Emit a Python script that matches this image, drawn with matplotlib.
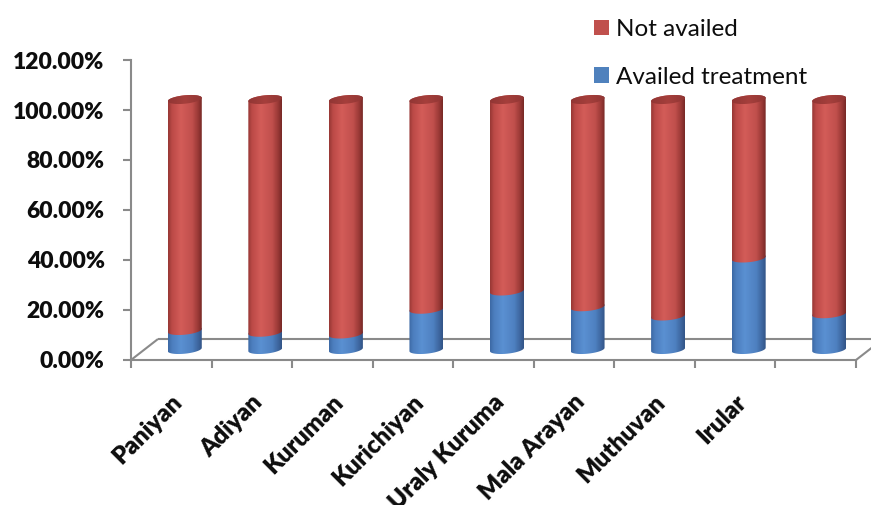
import numpy as np
import matplotlib
matplotlib.use("Agg")
import matplotlib.pyplot as plt
from matplotlib.path import Path
from matplotlib.patches import PathPatch, Rectangle

# ---- data -------------------------------------------------------------
categories = ["Paniyan", "Adiyan", "Kuruman", "Kurichiyan", "Uraly Kuruma",
              "Mala Arayan", "Muthuvan", "Irular", ""]
availed = [7.6, 6.9, 6.2, 16.1, 23.4, 17.1, 13.4, 36.6, 14.3]
not_availed = [92.4, 93.1, 93.8, 83.9, 76.6, 82.9, 86.6, 63.4, 85.7]
series_names = ["Availed treatment", "Not availed"]
y_ticks = [0, 20, 40, 60, 80, 100, 120]

# ---- figure / axes ----------------------------------------------------
W, H, DPI = 871, 505, 100
fig = plt.figure(figsize=(W / DPI, H / DPI), dpi=DPI)
ax_left, ax_right, ax_bottom_px, ax_top_px = 131, 856, 360, 60
ax = fig.add_axes([ax_left / W, (H - ax_bottom_px) / H,
                   (ax_right - ax_left) / W, (ax_bottom_px - ax_top_px) / H])
n = len(categories)
ax.set_xlim(0, n)
ax.set_ylim(0, 120)

px_x = (ax_right - ax_left) / n           # pixels per category
px_y = (ax_bottom_px - ax_top_px) / 120   # pixels per percent

# oblique depth of the floor (full) and the cylinder row (half)
depth_dx = 27 / px_x
depth_dy = 21 / px_y
half_dx, half_dy = depth_dx / 2, depth_dy / 2

# cylinder geometry
rad_x = 17 / px_x
rad_y = 4.2 / px_y
tilt = 1.65 / px_y

grey = "#8a8a8a"

# ---- floor ------------------------------------------------------------
floor_kw = dict(color=grey, lw=1.5, clip_on=False, zorder=1,
                solid_capstyle="butt")
ax.plot([0, depth_dx], [0, depth_dy], **floor_kw)
ax.plot([depth_dx, n + depth_dx], [depth_dy, depth_dy], **floor_kw)
ax.plot([n, n + depth_dx], [0, depth_dy], **floor_kw)

# ---- axes styling -----------------------------------------------------
for side in ("top", "right"):
    ax.spines[side].set_visible(False)
for side in ("left", "bottom"):
    ax.spines[side].set_color(grey)
    ax.spines[side].set_linewidth(1.5)
    ax.spines[side].set_zorder(1)
ax.set_yticks(y_ticks)
ax.set_yticklabels([f"{v:.2f}%" for v in y_ticks])
ax.set_xticks(np.arange(n + 1))
ax.set_xticklabels([])
ax.tick_params(axis="y", direction="out", length=6, width=1.5, color=grey,
               pad=13, labelsize=16.5, labelcolor="#0d0d0d")
ax.tick_params(axis="x", direction="out", length=5.5, width=1.5, color=grey)
for lab in ax.get_yticklabels():
    lab.set_fontfamily("Lato")
    lab.set_fontweight("heavy")
ax.patch.set_visible(False)


def blend(stops, m=256):
    pos = np.array([s[0] for s in stops])
    cols = np.array([s[1] for s in stops], dtype=float) / 255.0
    t = np.linspace(0, 1, m)
    out = np.stack([np.interp(t, pos, cols[:, c]) for c in range(3)], axis=-1)
    return out[None, :, :]


red_body = blend([(0.0, (150, 55, 52)), (0.12, (188, 74, 71)),
                  (0.38, (211, 92, 88)), (0.72, (192, 79, 76)),
                  (0.9, (150, 55, 52)), (1.0, (118, 40, 38))])
blue_body = blend([(0.0, (60, 104, 163)), (0.12, (76, 126, 190)),
                   (0.38, (90, 144, 210)), (0.72, (78, 128, 192)),
                   (0.9, (60, 100, 156)), (1.0, (50, 84, 134))])
red_top = blend([(0.0, (145, 54, 52)), (0.5, (165, 63, 60)),
                 (1.0, (145, 54, 52))])


def arc(xc, yc, t):
    return np.column_stack([xc + rad_x * np.cos(t),
                            yc + rad_y * np.sin(t) + tilt * np.cos(t)])


def shade(path, img, xc, ylo, yhi, z):
    patch = PathPatch(path, facecolor="none", edgecolor="none",
                      transform=ax.transData, zorder=z)
    ax.add_patch(patch)
    im = ax.imshow(img, extent=[xc - rad_x, xc + rad_x, ylo, yhi],
                   aspect="auto", interpolation="bilinear", zorder=z,
                   origin="lower")
    im.set_clip_path(patch)


lower_t = np.linspace(np.pi, 2 * np.pi, 60)
upper_t = np.linspace(0, np.pi, 60)
full_t = np.linspace(0, 2 * np.pi, 120)

for i in range(n):
    xc = i + 0.5 + half_dx
    base = half_dy
    stacks = [(availed[i], blue_body), (not_availed[i], red_body)]
    y0 = base
    for k, (val, img) in enumerate(stacks):
        y1 = y0 + val
        verts = np.vstack([arc(xc, y0, lower_t), arc(xc, y1, upper_t),
                           arc(xc, y0, lower_t[:1])])
        path = Path(verts, closed=True)
        shade(path, img, xc, y0 - rad_y - tilt, y1 + rad_y + tilt, 3 + k)
        y0 = y1
    # lid of the cylinder
    lid = Path(np.vstack([arc(xc, y0, full_t)]), closed=True)
    shade(lid, red_top, xc, y0 - rad_y - tilt, y0 + rad_y + tilt, 6)

ax.set_xlim(0, n)
ax.set_ylim(0, 120)

# ---- category labels --------------------------------------------------
for i, name in enumerate(categories):
    ax.text(i + 0.5 - 0.5 / px_x, -31 / px_y, name, rotation=45,
            rotation_mode="anchor", ha="right", va="top",
            fontsize=17.5, fontweight="heavy", family="Lato", color="#0d0d0d",
            clip_on=False)

# ---- legend -----------------------------------------------------------
legend_rows = [("Not availed", "#c0504d", 27), ("Availed treatment", "#4f81bd", 75)]
for label, col, yc in legend_rows:
    fig.patches.append(Rectangle((594 / W, 1 - (yc + 7.5) / H), 15 / W, 15 / H,
                                 transform=fig.transFigure, facecolor=col,
                                 edgecolor="none"))
    fig.text(616 / W, 1 - yc / H, label, ha="left", va="center_baseline",
             fontsize=17.5, family="Lato", color="#0d0d0d")

fig.savefig("out.png", dpi=DPI)
